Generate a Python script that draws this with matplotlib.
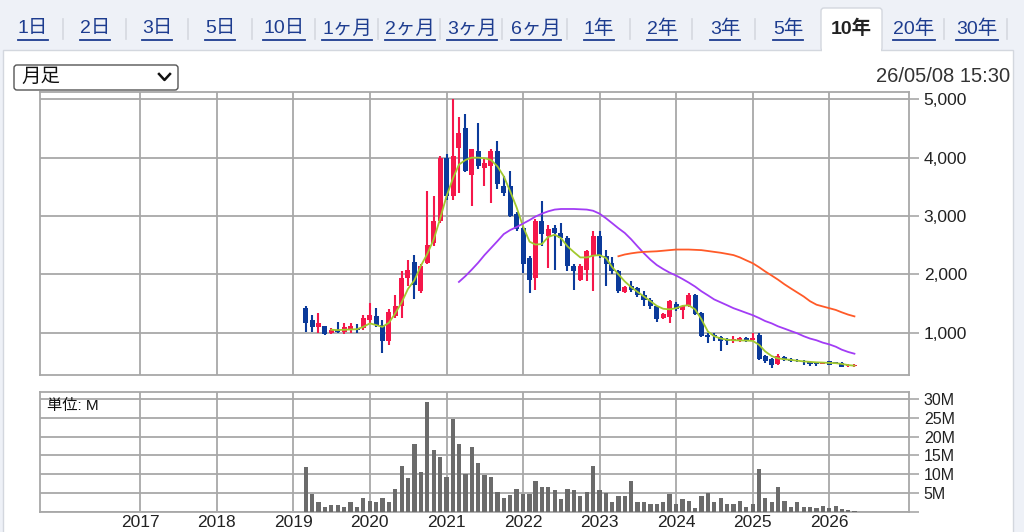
import numpy as np
import pandas as pd
import matplotlib
matplotlib.use("Agg")
import matplotlib.pyplot as plt
import matplotlib.dates as mdates
from matplotlib.patches import Rectangle, FancyBboxPatch

plt.rcParams['font.family'] = ['Liberation Sans', 'Noto Sans CJK JP', 'DejaVu Sans']

# dados mensais (mar/2019 - mai/2026)
meses = pd.date_range("2019-03-01", periods=87, freq="MS")

abertura = [1420, 1220, 1100, 1110, 990, 1040, 1020, 1040, 1070, 1080,
            1220, 1280, 1130, 850, 1280, 1450, 1940, 2220, 1710, 2200,
            2540, 2910, 4000, 3340, 4170, 4510, 3710, 4110, 3830, 3860,
            4110, 3510, 3510, 3030, 2800, 2280, 1940, 2910, 2650, 2800,
            2710, 2630, 2140, 1910, 2080, 2310, 2650, 2310, 2200, 2050,
            1700, 1800, 1760, 1650, 1560, 1450, 1250, 1270, 1490, 1390,
            1460, 1640, 1330, 966, 966, 920, 892, 852, 869, 910,
            880, 966, 605, 548, 468, 583, 548, 537, 520, 497,
            480, 468, 508, 497, 480, 422, 430]
fechamento = [1170, 1100, 1170, 970, 1040, 1010, 1090, 1110, 1040, 1250,
              1310, 1130, 850, 1360, 1450, 1940, 2080, 1820, 2140, 2510,
              2910, 4000, 3340, 4030, 4430, 3770, 4140, 3860, 3910, 4110,
              3540, 3400, 3000, 2770, 2170, 1910, 2910, 2700, 2770, 2710,
              2630, 2140, 2050, 2140, 2400, 2650, 2310, 2170, 2050, 1720,
              1790, 1740, 1650, 1560, 1460, 1230, 1320, 1540, 1400, 1450,
              1640, 1320, 940, 926, 937, 863, 852, 892, 910, 869,
              910, 548, 520, 451, 605, 537, 520, 508, 491, 468,
              457, 491, 451, 468, 411, 451, 450]
maxima = [1450, 1310, 1340, 1120, 1080, 1190, 1170, 1160, 1150, 1310,
          1510, 1420, 1220, 1400, 1650, 2050, 2250, 2340, 2170, 3430,
          3350, 4030, 4060, 5000, 4690, 4740, 4150, 4600, 3970, 4140,
          4290, 3680, 3770, 3060, 2830, 2310, 2940, 3250, 2850, 2850,
          2880, 2650, 2170, 2170, 2420, 2740, 2740, 2420, 2300, 2080,
          1800, 1880, 1790, 1720, 1600, 1460, 1340, 1560, 1520, 1480,
          1680, 1660, 1360, 995, 995, 937, 905, 937, 930, 925,
          990, 995, 622, 565, 640, 600, 565, 550, 530, 510,
          490, 500, 520, 505, 490, 460, 462]
minima = [1020, 1020, 1000, 960, 970, 990, 980, 1000, 1000, 1050,
          1170, 1100, 650, 790, 1250, 1250, 1800, 1570, 1680, 2170,
          2480, 2880, 3280, 3280, 3400, 3760, 3170, 3800, 3510, 3230,
          3460, 3340, 2990, 2740, 2020, 1680, 1740, 2480, 2110, 2080,
          2480, 2050, 1740, 1880, 1880, 1710, 2280, 1800, 2000, 1680,
          1680, 1700, 1620, 1450, 1400, 1180, 1230, 1170, 1370, 1230,
          1440, 1300, 930, 823, 851, 680, 794, 823, 840, 840,
          860, 537, 480, 394, 451, 520, 500, 490, 451, 422,
          430, 455, 440, 455, 405, 410, 420]
volume = [11.8, 4.7, 2.6, 1.3, 1.8, 1.8, 1.3, 2.6, 1.3, 3.7,
          3.0, 2.6, 3.7, 2.6, 6.1, 12.1, 8.9, 18.1, 10.5, 29.3,
          16.5, 14.6, 9.3, 24.6, 18.1, 10.0, 17.3, 12.9, 9.8, 9.3,
          5.3, 3.7, 4.6, 6.1, 4.8, 4.8, 8.1, 6.6, 6.6, 5.8,
          3.4, 6.1, 5.8, 4.2, 5.3, 12.1, 5.8, 4.9, 2.6, 4.2,
          4.2, 8.1, 2.7, 2.5, 2.0, 2.2, 2.7, 4.7, 2.2, 3.4,
          2.9, 1.1, 4.2, 4.9, 2.7, 3.7, 2.2, 2.2, 2.9, 1.3,
          2.0, 11.3, 3.8, 2.5, 6.6, 2.9, 1.3, 2.5, 1.2, 1.3,
          1.1, 1.6, 1.1, 1.6, 0.7, 0.45, 0.2]

# medias moveis
media_curta = [1050, 1045, 1050, 1055, 1060, 1100, 1160, 1130, 1100, 1170,
               1330, 1520, 1750, 1900, 2150, 2350, 2600, 2950, 3340, 3650,
               3880, 3960, 4000, 4000, 3990, 3960, 3850, 3680, 3420, 3150,
               2820, 2560, 2510, 2520, 2640, 2680, 2620, 2480, 2380, 2290,
               2290, 2320, 2330, 2280, 2130, 2000, 1880, 1780, 1700, 1620,
               1540, 1460, 1410, 1400, 1420, 1460, 1470, 1400, 1230, 1020,
               940, 900, 880, 870, 868, 865, 860, 790, 680, 600,
               560, 545, 535, 520, 508, 500, 492, 488, 482, 478,
               465, 445, 435]  # a partir do mes 4
media_24 = [1870, 1970, 2080, 2200, 2330, 2450, 2570, 2690, 2760, 2810,
            2870, 2930, 2990, 3040, 3080, 3110, 3120, 3120, 3120, 3115,
            3110, 3090, 3040, 2960, 2880, 2790, 2710, 2600, 2480, 2360,
            2250, 2160, 2090, 2030, 1980, 1920, 1860, 1790, 1710, 1640,
            1570, 1520, 1470, 1420, 1380, 1340, 1300, 1250, 1200, 1160,
            1110, 1070, 1030, 990, 940, 900, 870, 830, 800, 760,
            710, 670, 640]  # a partir do mes 24
media_longa = [2310, 2340, 2360, 2375, 2385, 2390, 2395, 2405, 2415, 2425,
               2425, 2425, 2420, 2415, 2400, 2385, 2370, 2350, 2330, 2290,
               2240, 2190, 2120, 2050, 1980, 1910, 1830, 1760, 1690, 1620,
               1540, 1480, 1450, 1420, 1390, 1350, 1310, 1280]  # a partir do mes 49

abas = ["1日", "2日", "3日", "5日", "10日", "1ヶ月", "2ヶ月", "3ヶ月", "6ヶ月",
        "1年", "2年", "3年", "5年", "10年", "20年", "30年"]
abas_x = [33, 95, 157, 220, 284, 347, 410, 472, 536, 599, 662, 725, 788, 851, 914, 977]
separadores = [63, 126, 188, 252, 315, 378, 440, 502, 567, 630, 692, 755, 944, 1007]

W, H = 1024, 532
fig = plt.figure(figsize=(W / 100, H / 100), dpi=100, facecolor="#eef1f7")

# camada de fundo em pixels
bg = fig.add_axes([0, 0, 1, 1], zorder=-5)
bg.set_xlim(0, W)
bg.set_ylim(H, 0)
bg.axis("off")
bg.add_patch(Rectangle((3, 50), 1010, 490, facecolor="white", edgecolor="#d3d7de", lw=1))
bg.add_patch(FancyBboxPatch((821, 8), 61, 43, boxstyle="round,pad=0,rounding_size=3",
                            facecolor="white", edgecolor="#d3d7de", lw=1))
bg.add_patch(Rectangle((822, 45), 59, 8, facecolor="white", edgecolor="none"))
for sx in separadores:
    bg.plot([sx, sx], [19, 39], color="#d5d8df", lw=1.2)

textos = []
for nome, cx in zip(abas, abas_x):
    if nome == "10年":
        bg.text(cx, 29, nome, ha="center", va="center", fontsize=14, color="#222222", fontweight="bold")
    else:
        t = bg.text(cx, 29, nome, ha="center", va="center", fontsize=14, color="#1d3c8f")
        textos.append(t)

# caixa de selecao
bg.add_patch(FancyBboxPatch((14, 65), 164, 25, boxstyle="round,pad=0,rounding_size=3",
                            facecolor="white", edgecolor="#555555", lw=1))
bg.text(21, 77.5, "月足", ha="left", va="center", fontsize=14, color="#111111")
bg.plot([159, 164.5, 170], [74, 80, 74], color="#111111", lw=1.8)
bg.text(1010, 76, "26/05/08 15:30", ha="right", va="center", fontsize=14.5, color="#333333")

# graficos
ax = fig.add_axes([39.5 / W, 1 - 375 / H, 869 / W, 283 / H])
axv = fig.add_axes([39.5 / W, 1 - 512 / H, 869 / W, 120 / H])

x = mdates.date2num(meses.to_pydatetime())
o = np.array(abertura)
c = np.array(fechamento)
cores = np.where(c >= o, "#f5174a", "#0b3a9a")
corpo = np.maximum(np.abs(c - o), 14)

ax.vlines(x, minima, maxima, colors=cores, lw=1.5, zorder=3)
ax.bar(x, corpo, bottom=np.minimum(o, c), width=24, color=cores, lw=0, zorder=4)
ax.plot(x[4:], media_curta, color="#a2c92e", lw=1.3, zorder=5)
ax.plot(x[24:], media_24, color="#a23cf5", lw=1.3, zorder=5)
ax.plot(x[49:], media_longa, color="#ff5a28", lw=1.3, zorder=5)

axv.bar(x, volume, width=20, color="#6b6b6b", lw=0, zorder=3)

xmin = mdates.date2num(pd.Timestamp("2015-09-08"))
xmax = mdates.date2num(pd.Timestamp("2027-01-14"))
anos = [mdates.date2num(pd.Timestamp(f"{a}-01-01")) for a in range(2017, 2027)]

for a in (ax, axv):
    a.set_xlim(xmin, xmax)
    a.set_xticks(anos)
    a.grid(color="#a8a8a8", lw=1.3)
    a.set_axisbelow(True)
    for s in a.spines.values():
        s.set_color("#a8a8a8")
        s.set_linewidth(1.3)
    a.yaxis.tick_right()
    a.tick_params(axis="y", length=7, width=1.2, color="#a8a8a8", labelcolor="#222222", pad=4)
    a.tick_params(axis="x", length=0)

ax.set_ylim(275, 5125)
ax.set_yticks([1000, 2000, 3000, 4000, 5000])
ax.set_yticklabels(["1,000", "2,000", "3,000", "4,000", "5,000"], fontsize=12.5)
ax.set_xticklabels([])

axv.set_ylim(-0.05, 31.86)
axv.set_yticks([0, 5, 10, 15, 20, 25, 30])
axv.set_yticklabels(["", "5M", "10M", "15M", "20M", "25M", "30M"], fontsize=11.5)
axv.set_xticklabels([str(a) for a in range(2017, 2027)], fontsize=12.5, color="#222222")
axv.tick_params(axis="x", pad=2)
axv.text(47, 406, "単位: M", transform=bg.transData, ha="left", va="center", fontsize=11, color="#111111")

# sublinhado dos links
fig.canvas.draw()
r = fig.canvas.get_renderer()
for t in textos:
    bb = t.get_window_extent(r)
    bg.plot([bb.x0, bb.x1], [39.5, 39.5], color="#1d3c8f", lw=1.3)

fig.savefig("out.png", dpi=100, facecolor=fig.get_facecolor())
